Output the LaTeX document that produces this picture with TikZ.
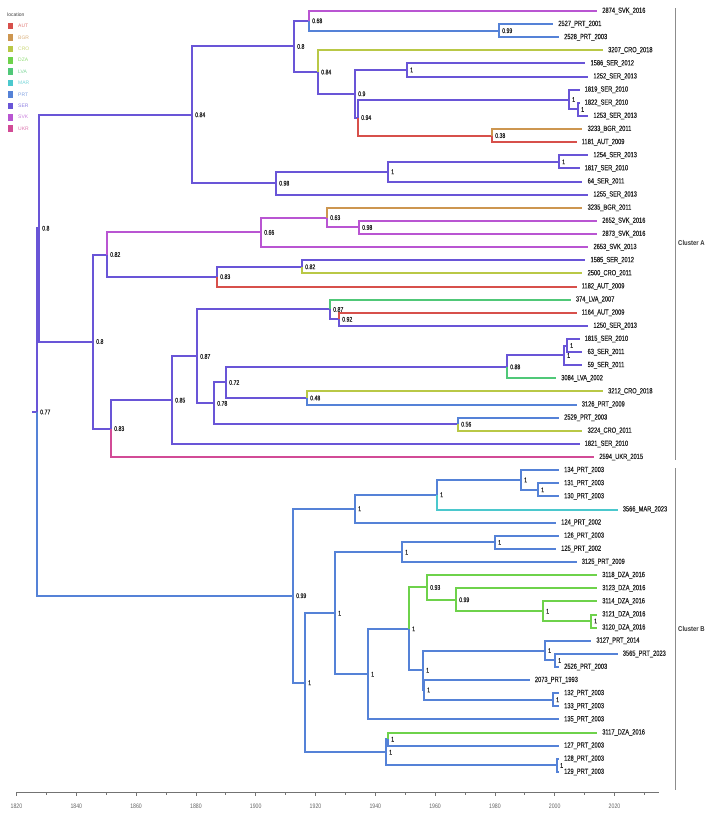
\documentclass[tikz,border=0pt]{standalone}
\usepackage{fontspec}
\setmainfont{Liberation Sans}
\newfontfamily\tipfont[FakeStretch=0.76,FakeBold=0.5]{Liberation Sans}
\newfontfamily\axfont[FakeStretch=0.8]{Liberation Sans}
\newfontfamily\clfont[FakeStretch=0.85]{Liberation Sans}
\pgfdeclarelayer{bg}
\pgfsetlayers{bg,main}
\definecolor{cAUT}{RGB}{215,80,75}
\definecolor{cBGR}{RGB}{205,150,80}
\definecolor{cCRO}{RGB}{185,200,70}
\definecolor{cDZA}{RGB}{110,210,75}
\definecolor{cLVA}{RGB}{80,200,120}
\definecolor{cMAR}{RGB}{75,200,205}
\definecolor{cPRT}{RGB}{85,130,215}
\definecolor{cSER}{RGB}{105,85,215}
\definecolor{cSVK}{RGB}{185,85,210}
\definecolor{cUKR}{RGB}{210,75,150}
\newcommand{\tiplabfont}{\tipfont\fontsize{7.5}{8}\selectfont}
\newcommand{\suplabfont}{\tipfont\fontsize{6.8}{7}\selectfont}
\newcommand{\tipAt}[5]{%
  \coordinate (#1) at ({559+(#2-2003)*2.93},{11+(#3-1)*13.12});
  \node[tiplab] (#1l) at (#1) {#4\_#5\_#2};}
\newcommand{\nodeAt}[4]{%
  \coordinate (#1) at (#2,{11+(#3-1)*13.12});
  \node[sup] (#1l) at (#1) {#4};}
\newcommand{\brn}[3]{\begin{pgfonlayer}{bg}\draw[branch,#1] (#2) |- (#3);\end{pgfonlayer}}
\begin{document}
\begin{tikzpicture}[x=1pt,y=-1pt,
  branch/.style={line width=2pt},
  sup/.style={anchor=west,inner sep=0pt,xshift=3pt,font=\suplabfont,text=black!85},
  tiplab/.style={anchor=west,inner sep=0pt,xshift=5pt,font=\tiplabfont,text=black!85},
  clbar/.style={draw=black!45,line width=0.9pt},
  cllab/.style={anchor=west,inner sep=0pt,font=\clfont\bfseries\fontsize{7}{8}\selectfont,text=black!80},
  axline/.style={draw=black!55,line width=0.7pt},
  axlab/.style={inner sep=0pt,font=\axfont\fontsize{6.5}{7}\selectfont,text=black!60},
  legsq/.style={inner sep=0pt,minimum width=4.7pt,minimum height=6.6pt,draw=none},
  leglab/.style={anchor=west,inner sep=0pt,font=\fontsize{5}{5}\selectfont}]
\useasboundingbox (0,0) rectangle (708,814);
% ---------- legend ----------
\node[anchor=west,inner sep=0pt,font=\fontsize{5}{5}\selectfont,text=black!75] (leghead) at (7,15) {location};
\foreach \c [count=\k from 0] in {AUT,BGR,CRO,DZA,LVA,MAR,PRT,SER,SVK,UKR}{
  \node[legsq,fill=c\c] (sq\c) at (10.4,{26+\k*11.4}) {};
  \node[leglab,text=c\c!75] (lg\c) at (18,{26+\k*11.4}) {\c};
}
% ---------- tips ----------
\tipAt{t1}{2016}{1}{2874}{SVK}
\tipAt{t2}{2001}{2}{2527}{PRT}
\tipAt{t3}{2003}{3}{2528}{PRT}
\tipAt{t4}{2018}{4}{3207}{CRO}
\tipAt{t5}{2012}{5}{1586}{SER}
\tipAt{t6}{2013}{6}{1252}{SER}
\tipAt{t7}{2010}{7}{1819}{SER}
\tipAt{t8}{2010}{8}{1822}{SER}
\tipAt{t9}{2013}{9}{1253}{SER}
\tipAt{t10}{2011}{10}{3233}{BGR}
\tipAt{t11}{2009}{11}{1181}{AUT}
\tipAt{t12}{2013}{12}{1254}{SER}
\tipAt{t13}{2010}{13}{1817}{SER}
\tipAt{t14}{2011}{14}{64}{SER}
\tipAt{t15}{2013}{15}{1255}{SER}
\tipAt{t16}{2011}{16}{3235}{BGR}
\tipAt{t17}{2016}{17}{2652}{SVK}
\tipAt{t18}{2016}{18}{2873}{SVK}
\tipAt{t19}{2013}{19}{2653}{SVK}
\tipAt{t20}{2012}{20}{1585}{SER}
\tipAt{t21}{2011}{21}{2500}{CRO}
\tipAt{t22}{2009}{22}{1182}{AUT}
\tipAt{t23}{2007}{23}{374}{LVA}
\tipAt{t24}{2009}{24}{1164}{AUT}
\tipAt{t25}{2013}{25}{1250}{SER}
\tipAt{t26}{2010}{26}{1815}{SER}
\tipAt{t27}{2011}{27}{63}{SER}
\tipAt{t28}{2011}{28}{59}{SER}
\tipAt{t29}{2002}{29}{3084}{LVA}
\tipAt{t30}{2018}{30}{3212}{CRO}
\tipAt{t31}{2009}{31}{3126}{PRT}
\tipAt{t32}{2003}{32}{2529}{PRT}
\tipAt{t33}{2011}{33}{3224}{CRO}
\tipAt{t34}{2010}{34}{1821}{SER}
\tipAt{t35}{2015}{35}{2594}{UKR}
\tipAt{t36}{2003}{36}{134}{PRT}
\tipAt{t37}{2003}{37}{131}{PRT}
\tipAt{t38}{2003}{38}{130}{PRT}
\tipAt{t39}{2023}{39}{3566}{MAR}
\tipAt{t40}{2002}{40}{124}{PRT}
\tipAt{t41}{2003}{41}{126}{PRT}
\tipAt{t42}{2002}{42}{125}{PRT}
\tipAt{t43}{2009}{43}{3125}{PRT}
\tipAt{t44}{2016}{44}{3118}{DZA}
\tipAt{t45}{2016}{45}{3123}{DZA}
\tipAt{t46}{2016}{46}{3114}{DZA}
\tipAt{t47}{2016}{47}{3121}{DZA}
\tipAt{t48}{2016}{48}{3120}{DZA}
\tipAt{t49}{2014}{49}{3127}{PRT}
\tipAt{t50}{2023}{50}{3565}{PRT}
\tipAt{t51}{2003}{51}{2526}{PRT}
\tipAt{t52}{1993}{52}{2073}{PRT}
\tipAt{t53}{2003}{53}{132}{PRT}
\tipAt{t54}{2003}{54}{133}{PRT}
\tipAt{t55}{2003}{55}{135}{PRT}
\tipAt{t56}{2016}{56}{3117}{DZA}
\tipAt{t57}{2003}{57}{127}{PRT}
\tipAt{t58}{2003}{58}{128}{PRT}
\tipAt{t59}{2003}{59}{129}{PRT}
% ---------- internal nodes ----------
\nodeAt{nR}{37}{31.562}{0.77}
\nodeAt{nA}{39}{17.556}{0.8}
\nodeAt{n84}{192}{8.914}{0.84}
\nodeAt{n80a}{294}{3.703}{0.8}
\nodeAt{n68}{309}{1.75}{0.68}
\nodeAt{n99a}{499}{2.5}{0.99}
\nodeAt{n84b}{318}{5.656}{0.84}
\nodeAt{n90}{355}{7.3125}{0.9}
\nodeAt{n1a}{407}{5.5}{1}
\nodeAt{n94}{358}{9.125}{0.94}
\nodeAt{n1b}{569}{7.75}{1}
\nodeAt{n1c}{578}{8.5}{1}
\nodeAt{n38}{492}{10.5}{0.38}
\nodeAt{n98}{276}{14.125}{0.98}
\nodeAt{n1d}{388}{13.25}{1}
\nodeAt{n1e}{559}{12.5}{1}
\nodeAt{n80b}{93}{26.197}{0.8}
\nodeAt{n82}{107}{19.5625}{0.82}
\nodeAt{n66}{261}{17.875}{0.66}
\nodeAt{n63}{327}{16.75}{0.63}
\nodeAt{n98b}{359}{17.5}{0.98}
\nodeAt{n83}{217}{21.25}{0.83}
\nodeAt{n82b}{302}{20.5}{0.82}
\nodeAt{n83b}{111}{32.832}{0.83}
\nodeAt{n85}{172}{30.664}{0.85}
\nodeAt{n87}{197}{27.328}{0.87}
\nodeAt{n87b}{330}{23.75}{0.87}
\nodeAt{n92}{339}{24.5}{0.92}
\nodeAt{n78}{214}{30.906}{0.78}
\nodeAt{n72}{226}{29.3125}{0.72}
\nodeAt{n88}{507}{28.125}{0.88}
\nodeAt{n1f}{564}{27.25}{1}
\nodeAt{n1g}{567}{26.5}{1}
\nodeAt{n48}{307}{30.5}{0.48}
\nodeAt{n56}{458}{32.5}{0.56}
\nodeAt{nB}{293}{45.568}{0.99}
\nodeAt{nB1}{355}{38.9375}{1}
\nodeAt{nB2}{437}{37.875}{1}
\nodeAt{nB3}{521}{36.75}{1}
\nodeAt{nB4}{538}{37.5}{1}
\nodeAt{nB5}{305}{52.199}{1}
\nodeAt{nB6}{335}{46.898}{1}
\nodeAt{nB7}{402}{42.25}{1}
\nodeAt{nB9}{495}{41.5}{1}
\nodeAt{nB8}{368}{51.547}{1}
\nodeAt{nB10}{409}{48.094}{1}
\nodeAt{n93}{427}{44.9375}{0.93}
\nodeAt{n99b}{456}{45.875}{0.99}
\nodeAt{nB11}{543}{46.75}{1}
\nodeAt{nB12}{591}{47.5}{1}
\nodeAt{nB13}{423}{51.25}{1}
\nodeAt{nB14}{545}{49.75}{1}
\nodeAt{nB16}{555}{50.5}{1}
\nodeAt{nB15}{424}{52.75}{1}
\nodeAt{nB17}{553}{53.5}{1}
\nodeAt{nB18}{386}{57.5}{1}
\nodeAt{nB19}{388}{56.5}{1}
\nodeAt{nB20}{557}{58.5}{1}
\coordinate (rstub) at (32,{11+30.562*13.12});
% ---------- branches ----------
\begin{pgfonlayer}{bg}\draw[branch,cSER] (rstub) -- (nR);\end{pgfonlayer}
\brn{cSER}{nR}{nA}
\brn{cPRT}{nR}{nB}
\brn{cSER}{nA}{n84}
\brn{cSER}{nA}{n80b}
\brn{cSER}{n84}{n80a}
\brn{cSER}{n84}{n98}
\brn{cSER}{n80a}{n68}
\brn{cSER}{n80a}{n84b}
\brn{cSVK}{n68}{t1}
\brn{cPRT}{n68}{n99a}
\brn{cPRT}{n99a}{t2}
\brn{cPRT}{n99a}{t3}
\brn{cCRO}{n84b}{t4}
\brn{cSER}{n84b}{n90}
\brn{cSER}{n90}{n1a}
\brn{cSER}{n90}{n94}
\brn{cSER}{n1a}{t5}
\brn{cSER}{n1a}{t6}
\brn{cSER}{n94}{n1b}
\brn{cAUT}{n94}{n38}
\brn{cSER}{n1b}{t7}
\brn{cSER}{n1b}{n1c}
\brn{cSER}{n1c}{t8}
\brn{cSER}{n1c}{t9}
\brn{cBGR}{n38}{t10}
\brn{cAUT}{n38}{t11}
\brn{cSER}{n98}{n1d}
\brn{cSER}{n98}{t15}
\brn{cSER}{n1d}{n1e}
\brn{cSER}{n1d}{t14}
\brn{cSER}{n1e}{t12}
\brn{cSER}{n1e}{t13}
\brn{cSER}{n80b}{n82}
\brn{cSER}{n80b}{n83b}
\brn{cSVK}{n82}{n66}
\brn{cSER}{n82}{n83}
\brn{cSVK}{n66}{n63}
\brn{cSVK}{n66}{t19}
\brn{cBGR}{n63}{t16}
\brn{cSVK}{n63}{n98b}
\brn{cSVK}{n98b}{t17}
\brn{cSVK}{n98b}{t18}
\brn{cSER}{n83}{n82b}
\brn{cAUT}{n83}{t22}
\brn{cSER}{n82b}{t20}
\brn{cCRO}{n82b}{t21}
\brn{cSER}{n83b}{n85}
\brn{cUKR}{n83b}{t35}
\brn{cSER}{n85}{n87}
\brn{cSER}{n85}{t34}
\brn{cSER}{n87}{n87b}
\brn{cSER}{n87}{n78}
\brn{cLVA}{n87b}{t23}
\brn{cSER}{n87b}{n92}
\brn{cAUT}{n92}{t24}
\brn{cSER}{n92}{t25}
\brn{cSER}{n78}{n72}
\brn{cSER}{n78}{n56}
\brn{cSER}{n72}{n88}
\brn{cSER}{n72}{n48}
\brn{cSER}{n88}{n1f}
\brn{cLVA}{n88}{t29}
\brn{cSER}{n1f}{n1g}
\brn{cSER}{n1f}{t28}
\brn{cSER}{n1g}{t26}
\brn{cSER}{n1g}{t27}
\brn{cCRO}{n48}{t30}
\brn{cPRT}{n48}{t31}
\brn{cPRT}{n56}{t32}
\brn{cCRO}{n56}{t33}
\brn{cPRT}{nB}{nB1}
\brn{cPRT}{nB}{nB5}
\brn{cPRT}{nB1}{nB2}
\brn{cPRT}{nB1}{t40}
\brn{cPRT}{nB2}{nB3}
\brn{cMAR}{nB2}{t39}
\brn{cPRT}{nB3}{t36}
\brn{cPRT}{nB3}{nB4}
\brn{cPRT}{nB4}{t37}
\brn{cPRT}{nB4}{t38}
\brn{cPRT}{nB5}{nB6}
\brn{cPRT}{nB5}{nB18}
\brn{cPRT}{nB6}{nB7}
\brn{cPRT}{nB6}{nB8}
\brn{cPRT}{nB7}{nB9}
\brn{cPRT}{nB7}{t43}
\brn{cPRT}{nB9}{t41}
\brn{cPRT}{nB9}{t42}
\brn{cPRT}{nB8}{nB10}
\brn{cPRT}{nB8}{t55}
\brn{cDZA}{nB10}{n93}
\brn{cPRT}{nB10}{nB13}
\brn{cDZA}{n93}{t44}
\brn{cDZA}{n93}{n99b}
\brn{cDZA}{n99b}{t45}
\brn{cDZA}{n99b}{nB11}
\brn{cDZA}{nB11}{t46}
\brn{cDZA}{nB11}{nB12}
\brn{cDZA}{nB12}{t47}
\brn{cDZA}{nB12}{t48}
\brn{cPRT}{nB13}{nB14}
\brn{cPRT}{nB13}{nB15}
\brn{cPRT}{nB14}{t49}
\brn{cPRT}{nB14}{nB16}
\brn{cPRT}{nB16}{t50}
\brn{cPRT}{nB16}{t51}
\brn{cPRT}{nB15}{t52}
\brn{cPRT}{nB15}{nB17}
\brn{cPRT}{nB17}{t53}
\brn{cPRT}{nB17}{t54}
\brn{cPRT}{nB18}{nB19}
\brn{cPRT}{nB18}{nB20}
\brn{cDZA}{nB19}{t56}
\brn{cPRT}{nB19}{t57}
\brn{cPRT}{nB20}{t58}
\brn{cPRT}{nB20}{t59}
% ---------- cluster bars ----------
\coordinate (cA1) at (675,8);
\coordinate (cA2) at (675,460);
\coordinate (cB1) at (675,468);
\coordinate (cB2) at (675,790);
\draw[clbar] (cA1) -- (cA2);
\draw[clbar] (cB1) -- (cB2);
\node[cllab] (clA) at (678,243) {Cluster A};
\node[cllab] (clB) at (678,629) {Cluster B};
% ---------- axis ----------
\coordinate (ax0) at (16.5,792);
\coordinate (ax1) at (659,792);
\draw[axline] (ax0) -- (ax1);
\foreach \yr in {1820,1840,...,2020}{
  \draw[axline] ({16.5+(\yr-1820)*2.99},792) -- ++(0,4);
  \node[axlab] (axl\yr) at ({16.5+(\yr-1820)*2.99},806) {\yr};
}
\foreach \yr in {1830,1850,...,2030}{
  \draw[axline] ({16.5+(\yr-1820)*2.99},792) -- ++(0,2.5);
}
\end{tikzpicture}
\end{document}
